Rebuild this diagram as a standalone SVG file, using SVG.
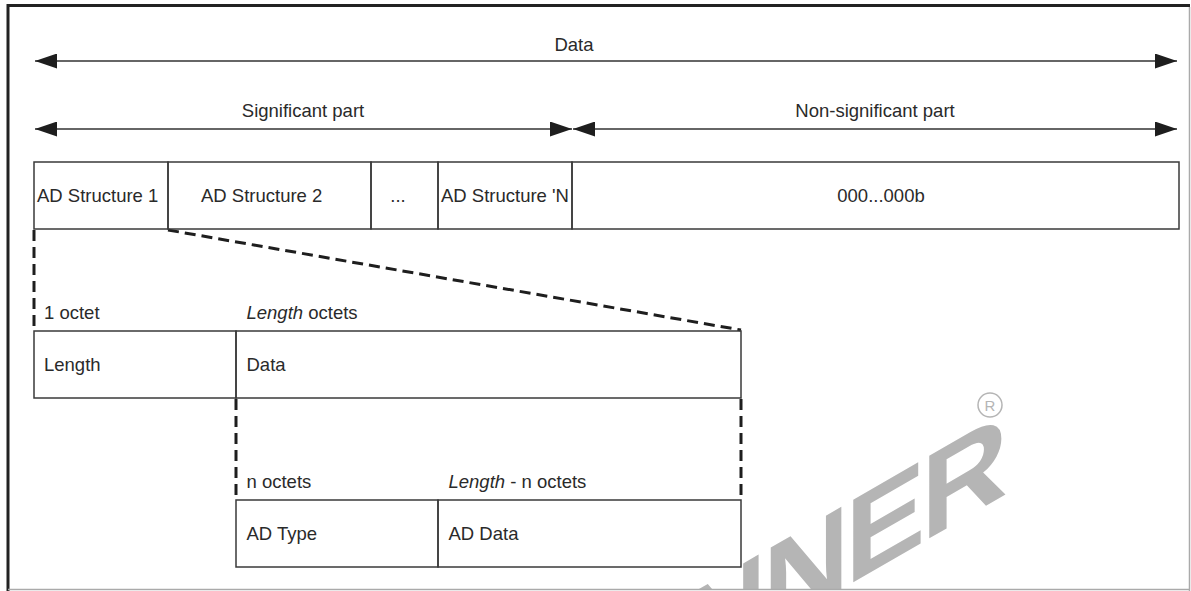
<svg xmlns="http://www.w3.org/2000/svg" width="1191" height="591" viewBox="0 0 1191 591">
  <style>
    .box { fill: none; stroke: #3a3a3a; stroke-width: 1.5; }
    .dash { fill: none; stroke: #1e1e1e; stroke-width: 3; stroke-dasharray: 11 6; }
    .arrow { fill: none; stroke: #333333; stroke-width: 1.6; }
    .t { font-family: "Liberation Sans", Arial, sans-serif; font-size: 18.5px; fill: #2a2a2a; }
    .it { font-style: italic; }
    .wm { font-family: "Liberation Sans", Arial, sans-serif; font-weight: bold; font-size: 120px; fill: #b5b5b5; letter-spacing: -4px; }
  </style>
  <defs>
    <marker id="ah" viewBox="0 0 22 15" refX="22" refY="7.5" markerWidth="22" markerHeight="15" markerUnits="userSpaceOnUse" orient="auto-start-reverse">
      <path d="M0,0 L22,7.5 L0,15 Z" fill="#1e1e1e"/>
    </marker>
    <clipPath id="frameClip">
      <rect x="9" y="7" width="1180" height="582"/>
    </clipPath>
  </defs>

  <rect x="0" y="0" width="1191" height="591" fill="#ffffff"/>

  <!-- watermark -->
  <g id="watermark" clip-path="url(#frameClip)">
    <text class="wm" transform="skewY(-30)" x="1004" y="1075" text-anchor="end">ALLWINNER</text>
    <circle cx="990" cy="405" r="12" fill="none" stroke="#b5b5b5" stroke-width="1.5"/>
    <text x="990" y="411" text-anchor="middle" font-family="Liberation Sans, Arial, sans-serif" font-size="15" fill="#b5b5b5">R</text>
  </g>

  <!-- frame -->
  <g id="frame">
    <line x1="8" y1="5.5" x2="1190" y2="5.5" stroke="#222" stroke-width="3"/>
    <line x1="8" y1="4" x2="8" y2="591" stroke="#222" stroke-width="3"/>
    <line x1="1189.5" y1="7" x2="1189.5" y2="591" stroke="#aaaaaa" stroke-width="1.5"/>
    <line x1="8" y1="589.5" x2="1190" y2="589.5" stroke="#aaaaaa" stroke-width="1.5"/>
  </g>

  <!-- connectors -->
  <g id="connectors">
    <line class="arrow" x1="35" y1="61" x2="1177" y2="61" marker-start="url(#ah)" marker-end="url(#ah)"/>
    <line class="arrow" x1="35" y1="129" x2="572" y2="129" marker-start="url(#ah)" marker-end="url(#ah)"/>
    <line class="arrow" x1="573" y1="129" x2="1177" y2="129" marker-start="url(#ah)" marker-end="url(#ah)"/>
    <line class="dash" x1="34" y1="230" x2="34" y2="330"/>
    <line class="dash" x1="168" y1="230" x2="741" y2="330"/>
    <line class="dash" x1="236" y1="399" x2="236" y2="499"/>
    <line class="dash" x1="741" y1="399" x2="741" y2="499"/>
  </g>

  <!-- arrow labels -->
  <g id="label-data"><text class="t" x="574" y="51" text-anchor="middle">Data</text></g>
  <g id="label-significant"><text class="t" x="303" y="117" text-anchor="middle">Significant part</text></g>
  <g id="label-nonsignificant"><text class="t" x="875" y="117" text-anchor="middle">Non-significant part</text></g>

  <!-- top row -->
  <g id="ad-structure-1">
    <rect class="box" x="34" y="162" width="134" height="67"/>
    <text class="t" x="37" y="201.5">AD Structure 1</text>
  </g>
  <g id="ad-structure-2">
    <rect class="box" x="168" y="162" width="203" height="67"/>
    <text class="t" x="201" y="201.5">AD Structure 2</text>
  </g>
  <g id="ad-structure-dots">
    <rect class="box" x="371" y="162" width="67" height="67"/>
    <text class="t" x="398" y="201.5" text-anchor="middle">...</text>
  </g>
  <g id="ad-structure-n">
    <rect class="box" x="438" y="162" width="134" height="67"/>
    <text class="t" x="441" y="201.5">AD Structure 'N</text>
  </g>
  <g id="non-significant">
    <rect class="box" x="572" y="162" width="607" height="67"/>
    <text class="t" x="881" y="201.5" text-anchor="middle">000...000b</text>
  </g>

  <!-- second row -->
  <g id="length-field">
    <text class="t" x="44" y="319">1 octet</text>
    <rect class="box" x="34" y="331" width="202" height="67"/>
    <text class="t" x="44" y="370.5">Length</text>
  </g>
  <g id="data-field">
    <text class="t" x="246.5" y="319"><tspan class="it">Length</tspan> octets</text>
    <rect class="box" x="236" y="331" width="505" height="67"/>
    <text class="t" x="246.5" y="370.5">Data</text>
  </g>

  <!-- third row -->
  <g id="ad-type">
    <text class="t" x="246.5" y="488">n octets</text>
    <rect class="box" x="236" y="500" width="202" height="67"/>
    <text class="t" x="246.5" y="539.5">AD Type</text>
  </g>
  <g id="ad-data">
    <text class="t" x="448.5" y="488"><tspan class="it">Length</tspan> - n octets</text>
    <rect class="box" x="438" y="500" width="303" height="67"/>
    <text class="t" x="448.5" y="539.5">AD Data</text>
  </g>
</svg>
